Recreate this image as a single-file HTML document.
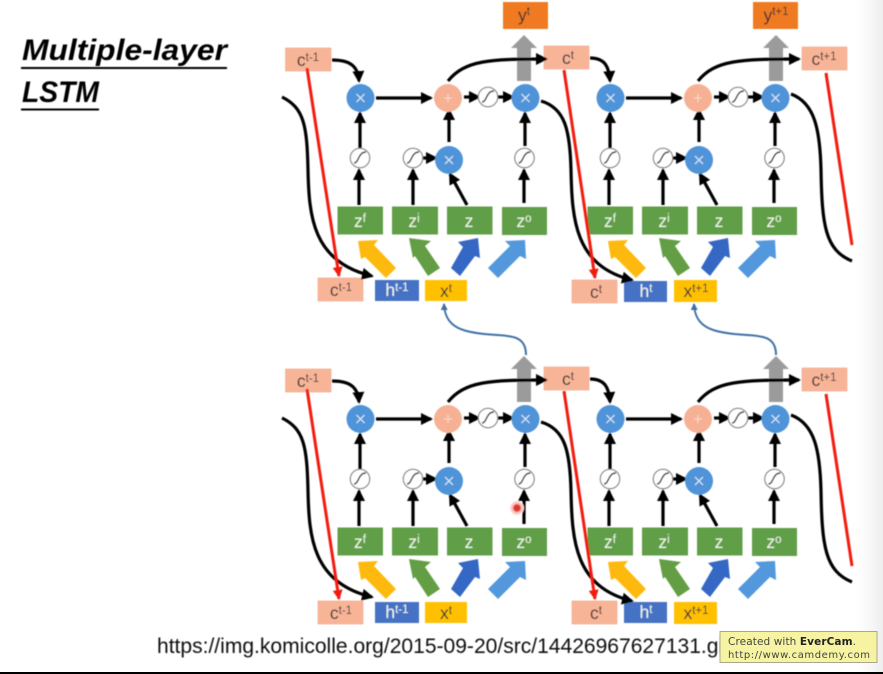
<!DOCTYPE html>
<html><head><meta charset="utf-8">
<style>
html,body{margin:0;padding:0;background:#fff}
svg{display:block}
.l{font-family:"Liberation Sans",sans-serif;font-size:17.5px;fill:#333;text-anchor:middle}
.w{fill:#eef5ea}
.s{font-size:11.5px}
</style></head>
<body>
<svg width="883" height="674" viewBox="0 0 883 674" xmlns="http://www.w3.org/2000/svg">
<defs>
<linearGradient id="edge" x1="0" x2="1" y1="0" y2="0"><stop offset="0" stop-color="#fff"/><stop offset="0.35" stop-color="#fbfbfb"/><stop offset="1" stop-color="#eeeeee"/></linearGradient>
<filter id="b" x="-5%" y="-5%" width="110%" height="110%"><feGaussianBlur stdDeviation="0.6"/></filter>
<radialGradient id="halo"><stop offset="0.45" stop-color="#e0392f"/><stop offset="0.6" stop-color="#f7b5ae"/><stop offset="1" stop-color="#fde6e3"/></radialGradient>
<marker id="k" markerUnits="userSpaceOnUse" markerWidth="14" markerHeight="14" refX="10" refY="6" orient="auto"><path d="M0,0L12,6L0,12z" fill="#000"/></marker>
<marker id="r" markerUnits="userSpaceOnUse" markerWidth="12" markerHeight="12" refX="9" refY="5" orient="auto"><path d="M0,0L10,5L0,10z" fill="#f21a10"/></marker>
<marker id="bl" markerUnits="userSpaceOnUse" markerWidth="9" markerHeight="9" refX="6" refY="3.5" orient="auto"><path d="M0,0L7,3.5L0,7z" fill="#3f70a5"/></marker>
<g id="sig"><circle r="9.7" fill="#fff" stroke="#777" stroke-width="1.1"/><path d="M-6,5C-1,5,-2,-6,6,-6" fill="none" stroke="#222" stroke-width="1.4"/></g>
<g id="mul"><circle r="14" fill="#4f93d8"/><path d="M-4,-4L4,4M4,-4L-4,4" stroke="#dbe9f7" stroke-width="1.2"/></g>
<g id="cell">
  <g fill="none" stroke="#000" stroke-width="3.2">
    <path d="M376,98H431" marker-end="url(#k)"/>
    <path d="M464,97H479" marker-end="url(#k)"/>
    <path d="M498,97H513" marker-end="url(#k)"/>
    <path d="M360,148V113" marker-end="url(#k)"/>
    <path d="M449,142V110" marker-end="url(#k)"/>
    <path d="M525,146V113" marker-end="url(#k)"/>
    <path d="M359,205V170" marker-end="url(#k)"/>
    <path d="M413,205V170" marker-end="url(#k)"/>
    <path d="M524,203V170" marker-end="url(#k)"/>
    <path d="M423,158H436" marker-end="url(#k)"/>
    <path d="M467,205L450,174" marker-end="url(#k)"/>
  </g>
  <use href="#mul" x="360.5" y="98"/>
  <use href="#mul" x="525.5" y="98"/>
  <use href="#mul" x="449" y="160"/>
  <circle cx="448" cy="98" r="14" fill="#f6b195"/>
  <path d="M444,98h8M448,94v8" stroke="#fbd9ca" stroke-width="1.1"/>
  <use href="#sig" x="488" y="97"/>
  <use href="#sig" x="360" y="158"/>
  <use href="#sig" x="413" y="158"/>
  <use href="#sig" x="524.5" y="158"/>
  <g fill="#609f47">
    <rect x="337.5" y="206.500" width="45.500" height="28"/>
    <rect x="392" y="206.500" width="46" height="28"/>
    <rect x="447" y="206.500" width="45.500" height="28"/>
    <rect x="502" y="207" width="45" height="28"/>
  </g>
  <path d="M358,241L378,240L374,245L396,268L386,278L365,257L361,259z" fill="#fdb90f"/>
  <path d="M409,238L431,241L425,246L440,268L428,276L415,256L413,258z" fill="#639e45"/>
  <path d="M478,238L458,242L463,247L451,268L460,276L475,256L480,258z" fill="#3467c4"/>
  <path d="M525,240L505,241L510,246L488,268L498,278L520,256L526,259z" fill="#5398dc"/>
</g>
</defs>

<rect x="855" y="0" width="28" height="672" fill="url(#edge)"/>
<g filter="url(#b)">
<!-- gray output arrows -->
<path d="M524,35L537,48H531V81H517V48H511z" fill="#9b9b9b"/>
<path d="M776,35L789,48H783V81H769V48H763z" fill="#9b9b9b"/>
<path d="M524,356L537,369H531V402H517V369H511z" fill="#9b9b9b"/>
<path d="M776,356L789,369H783V402H769V369H763z" fill="#9b9b9b"/>

<use href="#cell"/>
<use href="#cell" x="250"/>
<use href="#cell" y="321"/>
<use href="#cell" x="250" y="321"/>

<!-- y boxes -->
<rect x="503" y="2" width="45" height="27" fill="#f07a22"/>
<rect x="753" y="2" width="45" height="27" fill="#f07a22"/>

<!-- c boxes -->
<g fill="#f8b497" stroke="#f0a688" stroke-width=".6">
<rect x="285.500" y="48" width="45.500" height="23"/><rect x="544" y="46" width="45" height="23"/><rect x="802" y="47" width="45" height="23"/>
<rect x="318" y="278" width="45" height="23"/><rect x="572" y="280" width="45" height="23"/>
<rect x="285.500" y="369" width="45.500" height="23"/><rect x="544" y="367" width="45" height="23"/><rect x="802" y="368" width="45" height="23"/>
<rect x="318" y="601" width="45" height="23"/><rect x="572" y="601" width="45" height="23"/>
</g>
<g fill="#4472c4">
<rect x="375" y="280" width="44" height="21"/><rect x="624" y="281" width="43" height="21"/>
<rect x="375" y="602" width="44" height="21"/><rect x="624" y="602" width="43" height="21"/>
</g>
<g fill="#ffc000">
<rect x="425" y="280" width="42" height="21"/><rect x="674" y="280" width="43" height="22"/>
<rect x="425" y="602" width="42" height="21"/><rect x="674" y="602" width="43" height="22"/>
</g>

<!-- long black curves -->
<g fill="none" stroke="#000" stroke-width="3.2">
<path d="M282,97C304,108,307,125,308,170C309,215,312,262,372,276" marker-end="url(#k)"/>
<path d="M541,101C565,108,570,130,571,170C572,220,575,266,632,280" marker-end="url(#k)"/>
<path d="M791,94C815,103,820,130,821,170C822,225,825,250,852,261"/>
<path d="M282,418C304,429,307,446,308,491C309,536,312,583,372,597" marker-end="url(#k)"/>
<path d="M541,422C565,429,570,451,571,491C572,541,575,587,632,601" marker-end="url(#k)"/>
<path d="M791,415C815,424,820,451,821,491C822,546,825,571,852,582"/>
<path d="M448,81C465,60,490,59,546,59" marker-end="url(#k)"/>
<path d="M698,81C715,60,740,59,799,59" marker-end="url(#k)"/>
<path d="M448,402C465,381,490,380,546,380" marker-end="url(#k)"/>
<path d="M698,402C715,381,740,380,799,380" marker-end="url(#k)"/>
<path d="M332,60C350,60,358,66,359,81" marker-end="url(#k)"/>
<path d="M590,58C606,58,609,68,610,81" marker-end="url(#k)"/>
<path d="M332,381C350,381,358,387,359,402" marker-end="url(#k)"/>
<path d="M590,379C606,379,609,389,610,402" marker-end="url(#k)"/>
</g>

<!-- red lines -->
<g fill="none" stroke="#f21a10" stroke-width="3">
<path d="M307,68L339,276" marker-end="url(#r)"/>
<path d="M564,70L595,278" marker-end="url(#r)"/>
<path d="M826,73L852,245"/>
<path d="M307,389L339,599" marker-end="url(#r)"/>
<path d="M564,391L595,599" marker-end="url(#r)"/>
<path d="M826,394L852,566"/>
</g>

<!-- blue feedback -->
<g fill="none" stroke="#3f70a5" stroke-width="2">
<path d="M526,355C526,338,515,336,497,335C462,333,445,328,444,304" marker-end="url(#bl)"/>
<path d="M776,355C776,338,765,336,747,335C712,333,695,328,694,304" marker-end="url(#bl)"/>
</g>

<!-- labels -->
<text class="l" x="524" y="21">y<tspan class="s" dy="-6">t</tspan></text>
<text class="l" x="776" y="21">y<tspan class="s" dy="-6">t+1</tspan></text>

<text class="l" x="308" y="66">c<tspan class="s" dy="-5">t-1</tspan></text>
<text class="l" x="568" y="64">c<tspan class="s" dy="-5">t</tspan></text>
<text class="l" x="824" y="65">c<tspan class="s" dy="-5">t+1</tspan></text>
<text class="l" x="341" y="296">c<tspan class="s" dy="-5">t-1</tspan></text>
<text class="l" x="596" y="298">c<tspan class="s" dy="-5">t</tspan></text>
<text class="l w" x="397" y="296">h<tspan class="s" dy="-5">t-1</tspan></text>
<text class="l w" x="646" y="297">h<tspan class="s" dy="-5">t</tspan></text>
<text class="l" x="446" y="297">x<tspan class="s" dy="-5">t</tspan></text>
<text class="l" x="696" y="297">x<tspan class="s" dy="-5">t+1</tspan></text>

<text class="l" x="308" y="387">c<tspan class="s" dy="-5">t-1</tspan></text>
<text class="l" x="568" y="385">c<tspan class="s" dy="-5">t</tspan></text>
<text class="l" x="824" y="386">c<tspan class="s" dy="-5">t+1</tspan></text>
<text class="l" x="341" y="619">c<tspan class="s" dy="-5">t-1</tspan></text>
<text class="l" x="596" y="619">c<tspan class="s" dy="-5">t</tspan></text>
<text class="l w" x="397" y="618">h<tspan class="s" dy="-5">t-1</tspan></text>
<text class="l w" x="646" y="618">h<tspan class="s" dy="-5">t</tspan></text>
<text class="l" x="446" y="619">x<tspan class="s" dy="-5">t</tspan></text>
<text class="l" x="696" y="619">x<tspan class="s" dy="-5">t+1</tspan></text>

<text class="l w" x="360" y="227">z<tspan class="s" dy="-5">f</tspan></text>
<text class="l w" x="414" y="227">z<tspan class="s" dy="-5">i</tspan></text>
<text class="l w" x="469" y="227">z</text>
<text class="l w" x="524" y="227">z<tspan class="s" dy="-5">o</tspan></text>
<text class="l w" x="610" y="227">z<tspan class="s" dy="-5">f</tspan></text>
<text class="l w" x="664" y="227">z<tspan class="s" dy="-5">i</tspan></text>
<text class="l w" x="719" y="227">z</text>
<text class="l w" x="774" y="227">z<tspan class="s" dy="-5">o</tspan></text>
<text class="l w" x="360" y="548">z<tspan class="s" dy="-5">f</tspan></text>
<text class="l w" x="414" y="548">z<tspan class="s" dy="-5">i</tspan></text>
<text class="l w" x="469" y="548">z</text>
<text class="l w" x="524" y="548">z<tspan class="s" dy="-5">o</tspan></text>
<text class="l w" x="610" y="548">z<tspan class="s" dy="-5">f</tspan></text>
<text class="l w" x="664" y="548">z<tspan class="s" dy="-5">i</tspan></text>
<text class="l w" x="719" y="548">z</text>
<text class="l w" x="774" y="548">z<tspan class="s" dy="-5">o</tspan></text>

<!-- cursor dot -->
<circle cx="517" cy="508" r="7" fill="url(#halo)"/>

<!-- title -->
<g font-family="'Liberation Sans',sans-serif" font-weight="bold" font-style="italic" font-size="30" fill="#000">
<text x="22" y="60" textLength="205" lengthAdjust="spacingAndGlyphs">Multiple-layer</text>
<text x="22" y="102" textLength="77" lengthAdjust="spacingAndGlyphs">LSTM</text>
</g>
<rect x="21" y="67" width="206" height="2" fill="#000"/>
<rect x="21" y="108.500" width="78" height="2" fill="#000"/>

<!-- url -->
<text x="157" y="653" font-family="'Liberation Sans',sans-serif" font-size="21" fill="#111" textLength="572" lengthAdjust="spacingAndGlyphs">https://img.komicolle.org/2015-09-20/src/14426967627131.gif</text>
</g>

<!-- tooltip -->
<rect x="720" y="631.500" width="157" height="31" fill="#f6f4a2" stroke="#a9a98a" stroke-width="1"/>
<g font-family="'DejaVu Sans',sans-serif" font-size="10.500" fill="#444">
<text x="728" y="645" textLength="128" lengthAdjust="spacing">Created with <tspan font-weight="bold" fill="#222">EverCam</tspan>.</text>
<text x="728" y="658" font-size="10" textLength="142" lengthAdjust="spacing">http://www.camdemy.com</text>
</g>

<rect x="0" y="672" width="883" height="2" fill="#000"/>
</svg>
</body></html>
